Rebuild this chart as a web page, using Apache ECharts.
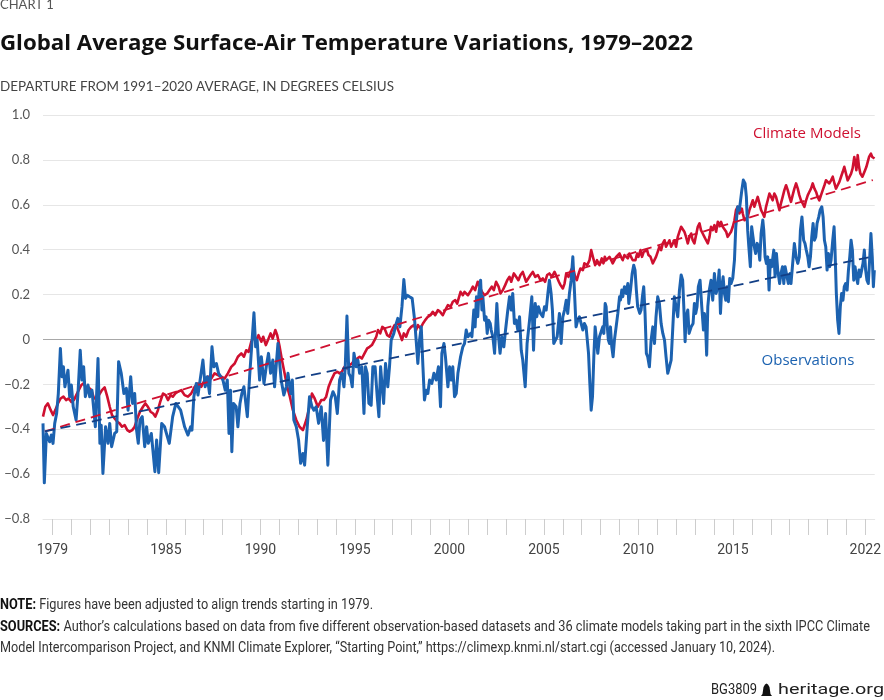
<!DOCTYPE html>
<html><head><meta charset="utf-8">
<script src="https://cdn.jsdelivr.net/npm/echarts@6/dist/echarts.min.js"></script>
<style>html,body{margin:0;padding:0;background:#fff}#c{width:884px;height:700px}</style>
</head><body><div id="c"></div>
<script>
// Observations: [decimal year, departure °C]
const observations = [
[1979.00,-0.374],[1979.07,-0.639],[1979.18,-0.419],[1979.35,-0.456],[1979.44,-0.426],[1979.53,-0.463],[1979.62,-0.374],[1979.72,-0.330],[1979.81,-0.241],[1979.92,-0.040],
[1980.00,-0.166],[1980.08,-0.122],[1980.16,-0.211],[1980.32,-0.137],[1980.41,-0.255],[1980.50,-0.203],[1980.60,-0.300],[1980.75,-0.359],[1980.85,-0.241],[1980.97,-0.048],
[1981.06,-0.181],[1981.15,-0.122],[1981.24,-0.255],[1981.38,-0.203],[1981.47,-0.255],[1981.59,-0.226],[1981.77,-0.389],[1981.91,-0.085],
[1982.01,-0.463],[1982.08,-0.382],[1982.17,-0.597],[1982.31,-0.389],[1982.44,-0.463],[1982.53,-0.374],[1982.63,-0.478],[1982.79,-0.419],[1982.90,-0.411],
[1983.00,-0.099],[1983.14,-0.151],[1983.28,-0.241],[1983.41,-0.218],[1983.50,-0.315],[1983.64,-0.166],[1983.74,-0.285],[1983.85,-0.241],[1983.95,-0.404],
[1984.04,-0.463],[1984.13,-0.359],[1984.25,-0.344],[1984.38,-0.478],[1984.48,-0.389],[1984.57,-0.463],[1984.73,-0.419],[1984.83,-0.508],[1984.92,-0.589],
[1985.01,-0.448],[1985.12,-0.594],[1985.28,-0.374],[1985.43,-0.389],[1985.68,-0.463],[1985.86,-0.344],
[1986.03,-0.285],[1986.28,-0.315],[1986.49,-0.389],[1986.67,-0.426],[1986.81,-0.389],[1986.88,-0.404],[1986.98,-0.255],
[1987.11,-0.196],[1987.20,-0.248],[1987.46,-0.092],[1987.58,-0.211],[1987.69,-0.166],[1987.81,-0.241],[1987.94,-0.033],
[1988.04,-0.122],[1988.17,-0.107],[1988.29,-0.151],[1988.52,-0.181],[1988.64,-0.226],[1988.75,-0.181],[1988.84,-0.419],[1988.92,-0.226],[1988.99,-0.500],
[1989.08,-0.285],[1989.22,-0.300],[1989.31,-0.389],[1989.42,-0.285],[1989.52,-0.241],[1989.63,-0.211],[1989.81,-0.344],[1989.93,-0.166],
[1990.05,-0.018],[1990.16,0.119],[1990.25,-0.033],[1990.33,-0.003],[1990.46,-0.181],[1990.55,-0.077],[1990.69,-0.196],[1990.81,-0.122],[1990.93,-0.062],
[1991.04,-0.151],[1991.16,-0.092],[1991.25,-0.211],[1991.36,-0.092],[1991.43,-0.018],[1991.60,-0.181],[1991.74,-0.248],[1991.87,-0.211],[1991.96,-0.151],
[1992.10,-0.241],[1992.19,-0.181],[1992.27,-0.359],[1992.40,-0.389],[1992.52,-0.448],[1992.63,-0.552],[1992.75,-0.508],[1992.84,-0.560],[1992.98,-0.389],
[1993.10,-0.255],[1993.23,-0.300],[1993.33,-0.315],[1993.45,-0.300],[1993.58,-0.374],[1993.72,-0.300],[1993.84,-0.450],[1993.95,-0.330],
[1994.07,-0.560],[1994.21,-0.270],[1994.34,-0.233],[1994.46,-0.255],[1994.57,-0.330],[1994.69,-0.181],[1994.81,-0.151],[1994.92,-0.211],[1994.99,-0.122],
[1995.08,0.104],[1995.18,-0.151],[1995.27,-0.166],[1995.36,-0.211],[1995.45,-0.062],[1995.57,-0.122],[1995.66,-0.092],[1995.75,-0.151],[1995.87,-0.122],[1995.98,-0.330],
[1996.06,-0.122],[1996.15,-0.151],[1996.24,-0.285],[1996.36,-0.293],[1996.45,-0.122],[1996.57,-0.122],[1996.68,-0.255],[1996.77,-0.344],[1996.86,-0.122],[1996.93,-0.196],
[1997.02,-0.285],[1997.12,-0.107],[1997.24,-0.211],[1997.33,-0.122],[1997.42,-0.003],[1997.56,0.027],[1997.69,0.071],[1997.77,0.094],[1997.88,0.056],[1997.99,0.146],
[1998.09,0.267],[1998.18,0.183],[1998.27,0.197],[1998.39,0.190],[1998.53,0.183],[1998.66,0.086],[1998.74,-0.003],[1998.83,-0.107],[1998.92,-0.003],
[1999.01,0.056],[1999.10,-0.122],[1999.18,-0.270],[1999.27,-0.226],[1999.36,-0.241],[1999.45,-0.181],[1999.57,-0.196],[1999.68,-0.151],[1999.80,-0.181],[1999.92,-0.122],
[2000.03,-0.300],[2000.10,-0.062],[2000.21,-0.018],[2000.29,-0.077],[2000.42,-0.211],[2000.51,-0.122],[2000.59,-0.181],[2000.68,-0.122],[2000.77,-0.255],[2000.86,-0.241],[2000.95,-0.151],
[2001.09,-0.077],[2001.21,-0.033],[2001.30,-0.018],[2001.39,0.042],[2001.48,0.012],[2001.62,0.027],[2001.69,0.012],[2001.79,0.131],[2001.86,0.056],[2001.93,0.190],
[2002.00,0.101],[2002.06,0.205],[2002.15,0.264],[2002.22,0.131],[2002.27,0.190],[2002.36,0.086],[2002.44,0.101],[2002.50,0.027],[2002.57,0.086],[2002.66,0.071],[2002.71,0.042],[2002.80,0.012],[2002.89,-0.062],
[2003.01,0.160],[2003.10,0.012],[2003.18,-0.062],[2003.27,0.012],[2003.38,-0.033],[2003.47,0.042],[2003.59,0.131],[2003.68,0.190],[2003.77,0.131],[2003.85,0.205],[2003.94,0.071],
[2004.03,0.086],[2004.12,0.042],[2004.21,0.101],[2004.30,-0.048],[2004.38,-0.092],[2004.51,-0.211],[2004.61,-0.018],[2004.74,0.086],[2004.86,0.190],[2004.95,-0.048],
[2005.04,0.160],[2005.12,0.101],[2005.21,0.146],[2005.32,0.116],[2005.44,0.101],[2005.53,0.146],[2005.62,0.131],[2005.71,0.205],[2005.79,0.264],[2005.88,0.205],[2005.95,0.131],
[2006.02,-0.018],[2006.11,-0.003],[2006.20,0.012],[2006.32,0.116],[2006.41,-0.018],[2006.50,0.101],[2006.59,0.131],[2006.68,0.175],[2006.76,0.116],[2006.85,0.205],[2006.94,0.264],
[2007.03,0.368],[2007.12,0.205],[2007.20,0.056],[2007.29,0.086],[2007.38,0.101],[2007.47,0.071],[2007.56,0.042],[2007.64,0.071],[2007.73,0.056],[2007.86,-0.062],[2007.93,-0.196],
[2008.00,-0.315],[2008.07,-0.255],[2008.14,-0.077],[2008.21,0.056],[2008.35,-0.062],[2008.44,0.012],[2008.61,0.056],[2008.67,0.027],[2008.74,0.160],[2008.79,0.146],[2008.84,0.071],[2008.91,-0.003],[2008.97,-0.018],
[2009.02,0.056],[2009.09,-0.033],[2009.16,-0.077],[2009.23,-0.003],[2009.32,0.056],[2009.41,0.116],[2009.50,0.190],[2009.55,0.175],[2009.62,0.220],[2009.67,0.190],[2009.76,0.235],[2009.85,0.205],[2009.94,0.249],[2009.99,0.160],
[2010.08,0.220],[2010.17,0.294],[2010.25,0.331],[2010.32,0.309],[2010.39,0.220],[2010.46,0.146],[2010.57,0.116],[2010.64,0.131],[2010.71,0.190],[2010.78,0.235],[2010.85,0.116],[2010.92,-0.062],[2010.99,-0.077],
[2011.08,-0.122],[2011.17,-0.003],[2011.26,0.056],[2011.35,-0.018],[2011.43,0.101],[2011.52,0.190],[2011.61,0.160],[2011.70,0.071],[2011.79,0.027],[2011.88,-0.003],[2011.96,-0.077],
[2012.05,-0.151],[2012.14,-0.122],[2012.23,-0.092],[2012.32,0.056],[2012.40,0.190],[2012.49,0.146],[2012.58,0.101],[2012.67,0.220],[2012.76,0.287],[2012.84,0.264],[2012.90,0.146],[2012.97,-0.010],
[2013.02,0.101],[2013.11,0.131],[2013.18,0.027],[2013.29,0.056],[2013.39,0.071],[2013.46,0.160],[2013.53,0.116],[2013.60,0.146],[2013.67,0.235],[2013.76,0.264],[2013.85,0.146],[2013.94,0.042],[2013.99,0.116],
[2014.06,0.042],[2014.11,-0.070],[2014.17,0.146],[2014.25,0.220],[2014.34,0.264],[2014.43,0.175],[2014.52,0.294],[2014.61,0.205],[2014.70,0.235],[2014.77,0.309],[2014.84,0.116],[2014.91,0.235],[2014.98,0.279],
[2015.05,0.205],[2015.12,0.175],[2015.19,0.235],[2015.26,0.168],[2015.33,0.272],[2015.40,0.249],[2015.49,0.272],[2015.58,0.353],[2015.65,0.502],[2015.75,0.591],[2015.84,0.576],[2015.97,0.665],
[2016.05,0.710],[2016.14,0.695],[2016.21,0.635],[2016.28,0.487],[2016.34,0.413],[2016.42,0.324],[2016.49,0.502],[2016.56,0.457],[2016.63,0.413],[2016.70,0.383],[2016.78,0.428],[2016.85,0.413],[2016.92,0.353],[2016.99,0.472],
[2017.08,0.532],[2017.13,0.487],[2017.20,0.368],[2017.27,0.339],[2017.34,0.368],[2017.41,0.220],[2017.48,0.353],[2017.55,0.324],[2017.66,0.398],[2017.73,0.279],[2017.80,0.383],[2017.87,0.309],[2017.97,0.249],
[2018.04,0.294],[2018.12,0.324],[2018.19,0.249],[2018.26,0.324],[2018.36,0.279],[2018.43,0.249],[2018.52,0.294],[2018.57,0.249],[2018.66,0.339],[2018.75,0.428],[2018.84,0.368],[2018.93,0.339],
[2019.01,0.368],[2019.07,0.487],[2019.15,0.546],[2019.24,0.442],[2019.31,0.428],[2019.38,0.398],[2019.46,0.368],[2019.53,0.324],[2019.60,0.368],[2019.67,0.457],[2019.74,0.517],[2019.81,0.442],[2019.88,0.457],[2019.95,0.517],
[2020.04,0.546],[2020.11,0.576],[2020.20,0.591],[2020.27,0.546],[2020.34,0.442],[2020.41,0.413],[2020.48,0.309],[2020.55,0.383],[2020.62,0.324],[2020.69,0.353],[2020.78,0.442],[2020.85,0.502],[2020.90,0.398],[2020.97,0.205],
[2021.04,0.086],[2021.11,0.027],[2021.18,0.146],[2021.25,0.205],[2021.32,0.175],[2021.39,0.235],[2021.46,0.249],[2021.54,0.220],[2021.61,0.309],[2021.68,0.368],[2021.75,0.442],[2021.82,0.398],[2021.89,0.264],[2021.96,0.324],
[2022.03,0.279],[2022.10,0.249],[2022.17,0.309],[2022.24,0.279],[2022.31,0.309],[2022.38,0.339],[2022.45,0.398],[2022.52,0.309],[2022.59,0.264],[2022.66,0.249],[2022.73,0.353],[2022.80,0.472],[2022.87,0.368],[2022.93,0.235],[2022.98,0.309]
];

// Climate models: [decimal year, departure °C]
const climateModels = [
[1979.00,-0.344],[1979.12,-0.300],[1979.26,-0.285],[1979.41,-0.315],[1979.53,-0.337],[1979.65,-0.315],[1979.79,-0.285],[1979.93,-0.263],
[1980.08,-0.255],[1980.22,-0.270],[1980.36,-0.263],[1980.50,-0.278],[1980.64,-0.270],[1980.76,-0.248],[1980.89,-0.226],
[1981.03,-0.203],[1981.15,-0.196],[1981.29,-0.218],[1981.41,-0.214],[1981.56,-0.226],[1981.70,-0.263],[1981.82,-0.263],[1981.96,-0.248],
[1982.12,-0.226],[1982.26,-0.214],[1982.40,-0.255],[1982.53,-0.300],[1982.65,-0.337],[1982.79,-0.352],[1982.93,-0.367],
[1983.05,-0.374],[1983.18,-0.389],[1983.32,-0.382],[1983.46,-0.404],[1983.58,-0.411],[1983.72,-0.404],[1983.85,-0.389],[1983.99,-0.352],
[1984.13,-0.322],[1984.29,-0.300],[1984.41,-0.285],[1984.55,-0.300],[1984.69,-0.322],[1984.83,-0.330],[1984.94,-0.344],
[1985.08,-0.315],[1985.20,-0.278],[1985.35,-0.241],[1985.49,-0.248],[1985.61,-0.270],[1985.75,-0.248],[1985.87,-0.255],
[1986.00,-0.241],[1986.14,-0.233],[1986.32,-0.226],[1986.49,-0.248],[1986.67,-0.255],[1986.84,-0.241],
[1987.02,-0.211],[1987.20,-0.196],[1987.37,-0.211],[1987.55,-0.181],[1987.73,-0.166],[1987.90,-0.174],
[1988.08,-0.151],[1988.25,-0.159],[1988.43,-0.166],[1988.61,-0.174],[1988.78,-0.151],[1988.96,-0.122],
[1989.14,-0.107],[1989.31,-0.077],[1989.49,-0.062],[1989.63,-0.077],[1989.75,-0.048],[1989.88,-0.055],
[1990.02,-0.010],[1990.16,0.012],[1990.28,-0.003],[1990.40,0.019],[1990.55,-0.010],[1990.65,0.012],[1990.79,-0.025],[1990.90,-0.003],
[1991.04,0.027],[1991.15,0.004],[1991.29,0.042],[1991.39,0.019],[1991.52,-0.033],[1991.64,-0.092],[1991.78,-0.151],[1991.92,-0.211],
[1992.06,-0.255],[1992.22,-0.315],[1992.40,-0.359],[1992.57,-0.389],[1992.75,-0.404],[1992.93,-0.359],
[1993.10,-0.300],[1993.23,-0.241],[1993.37,-0.263],[1993.54,-0.300],[1993.72,-0.270],[1993.86,-0.270],[1993.98,-0.255],
[1994.11,-0.211],[1994.25,-0.181],[1994.42,-0.151],[1994.57,-0.144],[1994.69,-0.151],[1994.81,-0.144],[1994.95,-0.122],
[1995.09,-0.129],[1995.22,-0.114],[1995.34,-0.107],[1995.48,-0.092],[1995.62,-0.085],[1995.75,-0.077],[1995.87,-0.085],
[1996.01,-0.062],[1996.15,-0.040],[1996.28,-0.033],[1996.40,-0.025],[1996.54,-0.003],[1996.63,0.012],[1996.72,0.042],[1996.84,0.027],[1996.95,0.056],
[1997.07,0.049],[1997.21,0.019],[1997.33,0.012],[1997.46,0.042],[1997.60,0.064],[1997.72,0.056],[1997.86,0.027],[1997.99,-0.003],
[1998.09,0.027],[1998.21,0.012],[1998.34,0.042],[1998.48,0.056],[1998.62,0.064],[1998.74,0.042],[1998.83,0.064],[1998.97,0.049],
[1999.10,0.071],[1999.22,0.086],[1999.36,0.101],[1999.50,0.108],[1999.62,0.123],[1999.75,0.108],[1999.89,0.131],
[2000.01,0.123],[2000.15,0.108],[2000.28,0.131],[2000.42,0.153],[2000.56,0.146],[2000.68,0.168],[2000.81,0.175],[2000.91,0.160],
[2001.09,0.212],[2001.21,0.197],[2001.30,0.212],[2001.39,0.220],[2001.48,0.197],[2001.56,0.205],[2001.65,0.220],[2001.74,0.235],[2001.86,0.220],
[2002.00,0.257],[2002.09,0.249],[2002.22,0.212],[2002.36,0.197],[2002.50,0.205],[2002.62,0.220],[2002.74,0.235],[2002.85,0.220],[2002.97,0.257],
[2003.10,0.235],[2003.20,0.205],[2003.33,0.220],[2003.45,0.242],[2003.56,0.264],[2003.68,0.279],[2003.77,0.257],[2003.91,0.294],
[2004.03,0.279],[2004.15,0.264],[2004.26,0.287],[2004.38,0.301],[2004.47,0.279],[2004.56,0.257],[2004.65,0.264],[2004.79,0.287],[2004.91,0.301],
[2005.04,0.279],[2005.18,0.287],[2005.32,0.264],[2005.44,0.272],[2005.56,0.257],[2005.67,0.287],[2005.79,0.294],[2005.92,0.279],
[2006.06,0.301],[2006.18,0.279],[2006.29,0.257],[2006.38,0.242],[2006.50,0.227],[2006.59,0.249],[2006.68,0.294],[2006.80,0.279],[2006.94,0.309],
[2007.03,0.324],[2007.15,0.279],[2007.24,0.264],[2007.34,0.294],[2007.43,0.316],[2007.56,0.309],[2007.64,0.339],[2007.79,0.331],[2007.91,0.353],
[2008.00,0.398],[2008.09,0.368],[2008.21,0.331],[2008.31,0.353],[2008.44,0.331],[2008.56,0.361],[2008.65,0.339],[2008.72,0.368],[2008.80,0.353],[2008.88,0.346],[2008.97,0.368],
[2009.06,0.353],[2009.14,0.339],[2009.23,0.353],[2009.32,0.368],[2009.41,0.361],[2009.50,0.383],[2009.58,0.368],[2009.67,0.353],[2009.76,0.376],[2009.85,0.368],[2009.94,0.361],
[2010.02,0.383],[2010.11,0.368],[2010.20,0.353],[2010.29,0.361],[2010.34,0.353],[2010.43,0.383],[2010.50,0.368],[2010.61,0.398],[2010.69,0.368],[2010.78,0.390],[2010.87,0.383],[2010.96,0.398],
[2011.03,0.376],[2011.14,0.368],[2011.26,0.339],[2011.35,0.331],[2011.43,0.368],[2011.52,0.390],[2011.61,0.413],[2011.70,0.398],[2011.79,0.428],[2011.88,0.442],[2011.96,0.413],
[2012.05,0.420],[2012.14,0.442],[2012.23,0.413],[2012.32,0.428],[2012.40,0.442],[2012.49,0.413],[2012.58,0.457],[2012.67,0.480],[2012.76,0.502],[2012.84,0.494],[2012.93,0.480],
[2013.02,0.457],[2013.11,0.428],[2013.20,0.457],[2013.29,0.472],[2013.37,0.442],[2013.46,0.428],[2013.55,0.465],[2013.64,0.502],[2013.73,0.517],[2013.81,0.487],[2013.90,0.472],[2013.99,0.457],
[2014.08,0.442],[2014.17,0.428],[2014.26,0.457],[2014.34,0.502],[2014.43,0.487],[2014.52,0.509],[2014.61,0.480],[2014.70,0.524],[2014.78,0.509],[2014.87,0.524],[2014.96,0.502],
[2015.05,0.509],[2015.14,0.480],[2015.22,0.457],[2015.31,0.465],[2015.40,0.480],[2015.49,0.502],[2015.58,0.531],[2015.66,0.576],[2015.75,0.591],[2015.84,0.561],[2015.97,0.583],
[2016.02,0.561],[2016.11,0.531],[2016.19,0.524],[2016.28,0.546],[2016.37,0.576],[2016.46,0.598],[2016.55,0.620],[2016.63,0.591],[2016.72,0.613],[2016.81,0.635],[2016.90,0.606],[2016.99,0.576],
[2017.08,0.561],[2017.16,0.546],[2017.25,0.591],[2017.34,0.620],[2017.43,0.650],[2017.52,0.635],[2017.60,0.620],[2017.69,0.650],[2017.78,0.635],[2017.87,0.606],[2017.96,0.576],
[2018.04,0.606],[2018.13,0.635],[2018.22,0.665],[2018.31,0.687],[2018.40,0.665],[2018.49,0.635],[2018.57,0.613],[2018.66,0.643],[2018.75,0.672],[2018.84,0.695],[2018.93,0.672],
[2019.01,0.643],[2019.10,0.620],[2019.19,0.606],[2019.28,0.591],[2019.37,0.620],[2019.46,0.643],[2019.54,0.657],[2019.63,0.672],[2019.72,0.695],[2019.81,0.672],[2019.90,0.657],[2019.98,0.635],
[2020.07,0.620],[2020.16,0.643],[2020.25,0.665],[2020.34,0.687],[2020.42,0.709],[2020.51,0.717],[2020.60,0.695],[2020.69,0.709],[2020.78,0.725],[2020.87,0.695],[2020.95,0.672],
[2021.04,0.687],[2021.13,0.702],[2021.22,0.725],[2021.31,0.747],[2021.39,0.769],[2021.48,0.739],[2021.57,0.709],[2021.66,0.717],[2021.75,0.739],[2021.83,0.762],[2021.92,0.813],[2021.98,0.784],
[2022.03,0.754],[2022.10,0.821],[2022.17,0.769],[2022.24,0.739],[2022.35,0.725],[2022.42,0.725],[2022.49,0.754],[2022.56,0.769],[2022.63,0.791],[2022.70,0.813],[2022.80,0.828],[2022.87,0.813],[2022.95,0.821],[2022.99,0.806]
];

// Linear trends (start/end)
const trendYears = [1979.1, 2022.9];
const modelTrend = [-0.41, 0.71];
const obsTrend = [-0.41, 0.37];

// Axis ticks
const tickYears = [];
for (let y = 1979; y <= 2022; y++) tickYears.push(y);
const labelYears = [1979, 1985, 1990, 1995, 2000, 2005, 2010, 2015, 2022];

const RED = '#cf1030', BLUE = '#1c62b0', NAVY = '#123f86';
const NF = 'Roboto, sans-serif';

// measure helper to fit text widths to the reference layout
const mctx = document.createElement('canvas').getContext('2d');
function w(text, font) { mctx.font = font; return mctx.measureText(text).width; }
function fitX(parts, target) { let s = 0; parts.forEach(p => s += w(p[0], p[1])); return target / s; }

const noteB = 'bold 14px ' + NF, noteR = '14px ' + NF;
const noteTxt = ' Figures have been adjusted to align trends starting in 1979.';
const srcTxt = ' Author\u2019s calculations based on data from five different observation-based datasets and 36 climate models taking part in the sixth IPCC Climate';
const src2Txt = 'Model Intercomparison Project, and KNMI Climate Explorer, \u201cStarting Point,\u201d https://climexp.knmi.nl/start.cgi (accessed January 10, 2024).';
const titleTxt = 'Global Average Surface-Air Temperature Variations, 1979\u20132022';
const titleFont = 'bold 22px "Open Sans", sans-serif';
const subTxt = 'DEPARTURE FROM 1991\u20132020 AVERAGE, IN DEGREES CELSIUS';
const subFont = '13px Lato, sans-serif';
const footFont = '15px ' + NF;

const chart = echarts.init(document.getElementById('c'), null, {renderer: 'canvas'});
const splitColors = [];
for (let i = 0; i < 10; i++) splitColors.push(i === 4 ? '#a8a8a8' : '#e6e6e6');

chart.setOption({
  animation: false,
  backgroundColor: '#fff',
  grid: {left: 43, right: 9, top: 115, bottom: 181, containLabel: false},
  xAxis: {
    type: 'value', min: 1979, max: 2023,
    axisLine: {show: true, onZero: false, lineStyle: {color: '#e6e6e6', width: 1}},
    splitLine: {show: false},
    axisTick: {show: true, length: 16, customValues: tickYears.map(y => y + 0.5), lineStyle: {color: '#cdcdcd', width: 1}},
    axisLabel: {
      customValues: labelYears.map(y => y + 0.5),
      formatter: v => String(Math.floor(v)),
      margin: 24, color: '#444', fontSize: 14, fontFamily: NF
    }
  },
  yAxis: {
    type: 'value', min: -0.8, max: 1.0, interval: 0.2,
    axisLine: {show: false}, axisTick: {show: false},
    splitLine: {show: true, lineStyle: {color: splitColors, width: 1}},
    axisLabel: {
      margin: 13, color: '#555', fontSize: 13, fontFamily: 'Lato, sans-serif',
      formatter: v => Math.abs(v) < 1e-9 ? '0' : (v < 0 ? '\u2212' : '') + Math.abs(v).toFixed(1)
    }
  },
  series: [
    {name: 'Climate Models', type: 'line', data: climateModels, showSymbol: false, z: 2,
     lineStyle: {color: RED, width: 2.6, join: 'round'}, itemStyle: {color: RED}},
    {name: 'Observations', type: 'line', data: observations, showSymbol: false, z: 3,
     lineStyle: {color: BLUE, width: 3, join: 'round'}, itemStyle: {color: BLUE}},
    {name: 'Climate Models trend', type: 'line', data: trendYears.map((t, i) => [t, modelTrend[i]]), showSymbol: false, z: 4,
     lineStyle: {color: RED, width: 1.8, type: [10, 6]}},
    {name: 'Observations trend', type: 'line', data: trendYears.map((t, i) => [t, obsTrend[i]]), showSymbol: false, z: 4,
     lineStyle: {color: NAVY, width: 1.8, type: [10, 6]}}
  ],
  graphic: [
    {type: 'text', x: 0, y: 5, style: {text: 'CHART 1', font: '13px Lato, sans-serif', fill: '#555', verticalAlign: 'middle'}},
    {type: 'text', x: 0, y: 44, scaleX: fitX([[titleTxt, titleFont]], 693), style: {text: titleTxt, font: titleFont, fill: '#111', verticalAlign: 'middle'}},
    {type: 'text', x: 0, y: 87, scaleX: fitX([[subTxt, subFont]], 394), style: {text: subTxt, font: subFont, fill: '#444', verticalAlign: 'middle'}},
    {type: 'text', x: 807, y: 134, style: {text: 'Climate Models', font: '15px "Open Sans", sans-serif', fill: RED, align: 'center', verticalAlign: 'middle'}},
    {type: 'text', x: 808, y: 361, style: {text: 'Observations', font: '15px "Open Sans", sans-serif', fill: BLUE, align: 'center', verticalAlign: 'middle'}},
    {type: 'text', x: 0, y: 605, scaleX: fitX([['NOTE:', noteB], [noteTxt, noteR]], 373),
     style: {text: '{b|NOTE:}' + noteTxt, font: noteR, fill: '#333', verticalAlign: 'middle', rich: {b: {font: noteB, fill: '#111'}}}},
    {type: 'text', x: 0, y: 627, scaleX: fitX([['SOURCES:', noteB], [srcTxt, noteR]], 870),
     style: {text: '{b|SOURCES:}' + srcTxt, font: noteR, fill: '#333', verticalAlign: 'middle', rich: {b: {font: noteB, fill: '#111'}}}},
    {type: 'text', x: 0, y: 648, scaleX: fitX([[src2Txt, noteR]], 775),
     style: {text: src2Txt, font: noteR, fill: '#333', verticalAlign: 'middle'}},
    {type: 'text', x: 757, y: 690, scaleX: fitX([['BG3809', footFont]], 46), style: {text: 'BG3809', font: footFont, fill: '#222', align: 'right', verticalAlign: 'middle'}},
    {type: 'polygon', x: 761, y: 682, shape: {points: [[0,14],[1.5,12],[2.5,5],[4,2.5],[5.5,1.5],[7,2.5],[8.5,5],[9.5,12],[11,14]]}, style: {fill: '#111'}},
    {type: 'text', x: 884, y: 690, scaleX: fitX([['heritage.org', footFont]], 106), style: {text: 'heritage.org', font: footFont, fill: '#222', align: 'right', verticalAlign: 'middle'}}
  ]
});
</script>
</body></html>
